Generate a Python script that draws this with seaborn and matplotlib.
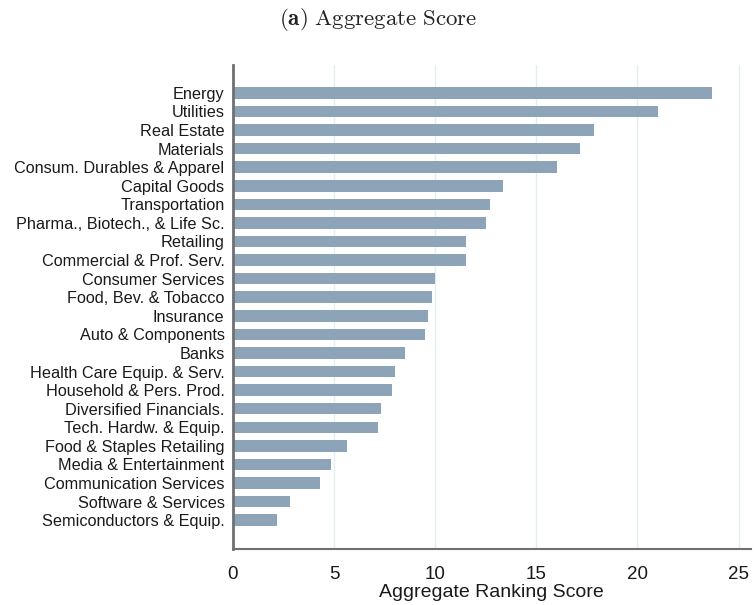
import matplotlib
matplotlib.use('Agg')
import matplotlib.pyplot as plt
import pandas as pd
import seaborn as sns

###
industries = [
    'Energy', 'Utilities', 'Real Estate', 'Materials',
    'Consum. Durables & Apparel', 'Capital Goods', 'Transportation',
    'Pharma., Biotech., & Life Sc.', 'Retailing', 'Commercial & Prof. Serv.',
    'Consumer Services', 'Food, Bev. & Tobacco', 'Insurance',
    'Auto & Components', 'Banks', 'Health Care Equip. & Serv.',
    'Household & Pers. Prod.', 'Diversified Financials.',
    'Tech. Hardw. & Equip.', 'Food & Staples Retailing',
    'Media & Entertainment', 'Communication Services',
    'Software & Services', 'Semiconductors & Equip.',
]
scores = [
    23.70, 21.01, 17.85, 17.16, 16.02, 13.35, 12.69, 12.49, 11.51, 11.51,
    9.99, 9.85, 9.65, 9.52, 8.50, 8.00, 7.86, 7.32, 7.17, 5.65,
    4.83, 4.33, 2.84, 2.18,
]
xticks = [0, 5, 10, 15, 20, 25]

###
df = pd.DataFrame({'industry': industries, 'score': scores})

sns.set_style('white')
plt.rcParams['font.family'] = ['Liberation Sans', 'DejaVu Sans']
plt.rcParams['mathtext.fontset'] = 'cm'

fig = plt.figure(figsize=(7.56, 6.05), dpi=100)
ax = fig.add_axes([0.308, 0.0926, 0.685, 0.80])

sns.barplot(data=df, x='score', y='industry', orient='h', color='#8da3b8',
            saturation=1, width=0.62, linewidth=0, ax=ax, zorder=2)

ax.set_xlim(0, 25.6)
ax.set_ylim(len(industries) - 1 + 1.55, -1.5)
ax.set_xticks(xticks)
ax.xaxis.grid(True, color='#e3eef0', linewidth=1.0, zorder=0)
ax.set_axisbelow(True)

for side in ['top', 'right']:
    ax.spines[side].set_visible(False)
ax.spines['left'].set_color('#707070')
ax.spines['left'].set_linewidth(2.0)
ax.spines['left'].set_zorder(5)
ax.spines['bottom'].set_color('#707070')
ax.spines['bottom'].set_linewidth(1.5)
ax.spines['bottom'].set_zorder(5)

ax.tick_params(axis='y', left=False, length=0, labelsize=11.7, pad=6,
               labelcolor='#1a1a1a')
ax.tick_params(axis='x', length=4, width=1.2, color='#707070',
               labelsize=13.5, pad=8, labelcolor='#1a1a1a')
ax.set_ylabel('')
ax.set_xlabel('Aggregate Ranking Score', fontsize=14, labelpad=1, color='#1a1a1a')

fig.text(0.5, 0.968, r'$\mathbf{(a)}\ \mathrm{Aggregate\ Score}$',
         ha='center', va='center', fontsize=16.5, color='#222222')

fig.savefig('out.png', dpi=100)
